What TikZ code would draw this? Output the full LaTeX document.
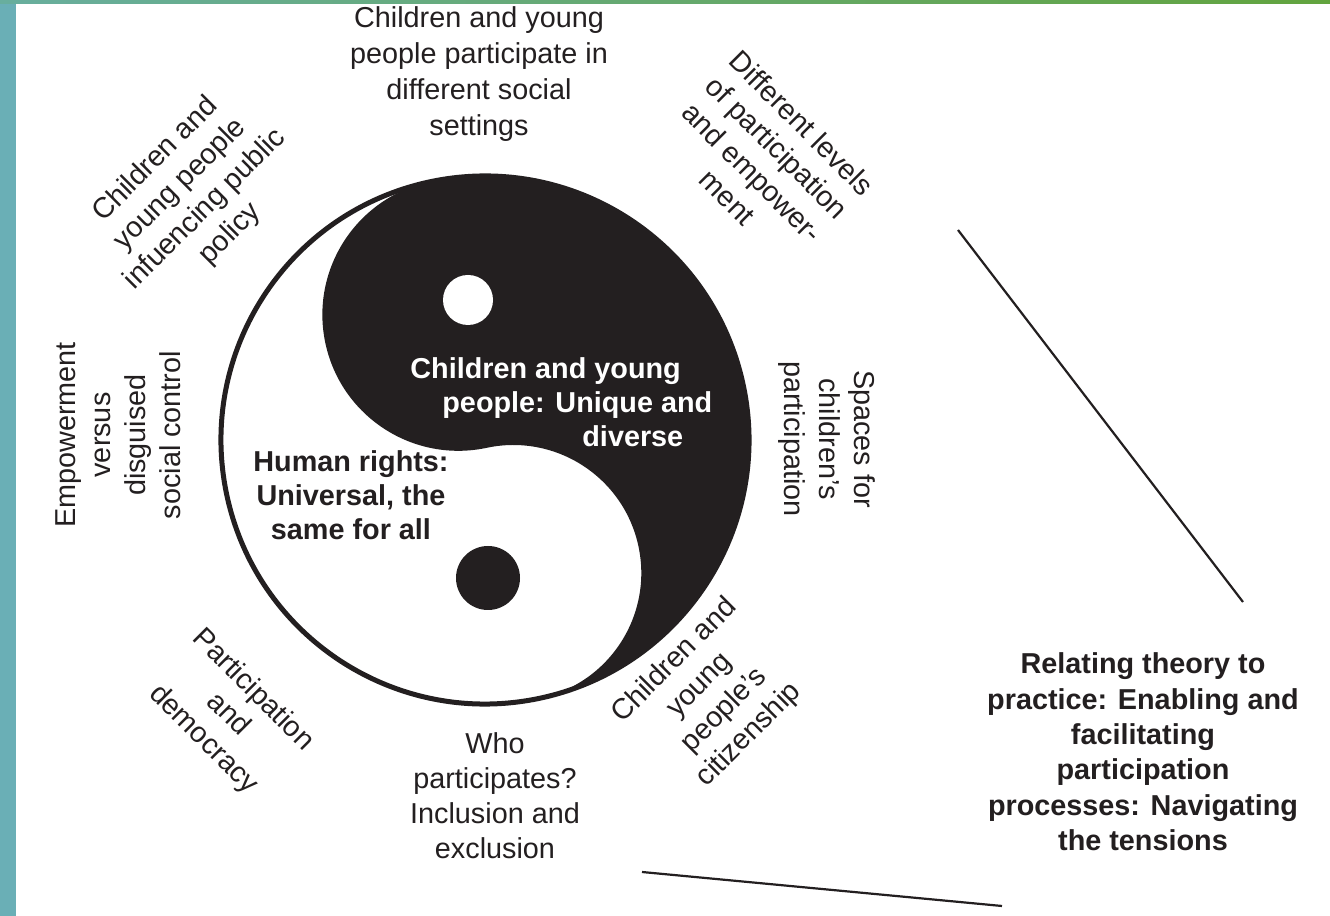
\documentclass[tikz,border=0pt]{standalone}
\usepackage{fontspec}
\setmainfont{Liberation Sans}
\begin{document}
\begin{tikzpicture}[x=0.5pt,y=0.5pt,
  lbl/.style={align=center,text=ink,inner sep=0pt,font=\fontsize{14.4}{17.5}\selectfont},
  bld/.style={lbl,font=\fontsize{14.4}{17}\selectfont\bfseries},
  rule/.style={draw=ink,line width=1.1pt}]
\definecolor{ink}{HTML}{231F20}
\definecolor{teal}{HTML}{6AAFB6}
\definecolor{tealgreen}{HTML}{68AE9E}
\definecolor{leaf}{HTML}{62A43E}
\useasboundingbox (0,0) rectangle (1330,916);
\fill[white] (0,0) rectangle (1330,916);
% frame strips
\fill[teal] (0,0) rectangle (16,916);
\shade[left color=tealgreen,right color=leaf] (0,912) rectangle (1330,916);
% yin-yang
\begin{scope}[shift={(485,476)},rotate=12]
  \fill[ink] (0,132pt) arc[start angle=90,end angle=-90,radius=132pt]
    arc[start angle=-90,end angle=90,radius=64pt]
    arc[start angle=-90,end angle=-270,radius=68pt] -- cycle;
  \draw[ink,line width=2.5pt] (0,0) circle[radius=132pt];
\end{scope}
\fill[white] (468,616) circle[radius=12.5pt];
\fill[ink] (488,338) circle[radius=16pt];
% inner texts
\node[bld,text=white,align=left,anchor=west] (unique) at (410,514)
  {Children and young\\\hspace*{16pt}people: Unique and\\\hspace*{86pt}diverse};
\node[bld] (rights) at (351,421) {Human rights:\\Universal, the\\same for all};
% surrounding labels
\node[lbl,font=\fontsize{14.4}{18}\selectfont] (settings) at (479,842) {Children and young\\people participate in\\different social\\settings};
\node[lbl,rotate=45] (policy) at (193,719) {Children and\\young people\\infuencing public\\policy};
\node[lbl,rotate=-45] (levels) at (765,756) {Different levels\\of participation\\and empower-\\ment};
\node[lbl,rotate=90] (control) at (118,481) {Empowerment\\versus\\disguised\\social control};
\node[lbl,rotate=-90] (spaces) at (827,477) {Spaces for\\children’s\\participation};
\node[lbl,rotate=-45] (democracy) at (228,201) {Participation\\and\\democracy};
\node[lbl] (who) at (495,120) {Who\\participates?\\Inclusion and\\exclusion};
\node[lbl,rotate=45] (citizen) at (712,218) {Children and\\young\\people’s\\citizenship};
\node[bld,font=\fontsize{14.4}{17.7}\selectfont\bfseries] (theory) at (1143,164) {Relating theory to\\practice: Enabling and\\facilitating\\participation\\processes: Navigating\\the tensions};
% lines
\coordinate (l1a) at (958,686);
\coordinate (l1b) at (1243,314);
\coordinate (l2a) at (642,44);
\coordinate (l2b) at (1002,10);
\draw[rule] (l1a) -- (l1b);
\draw[rule] (l2a) -- (l2b);
\end{tikzpicture}
\end{document}
